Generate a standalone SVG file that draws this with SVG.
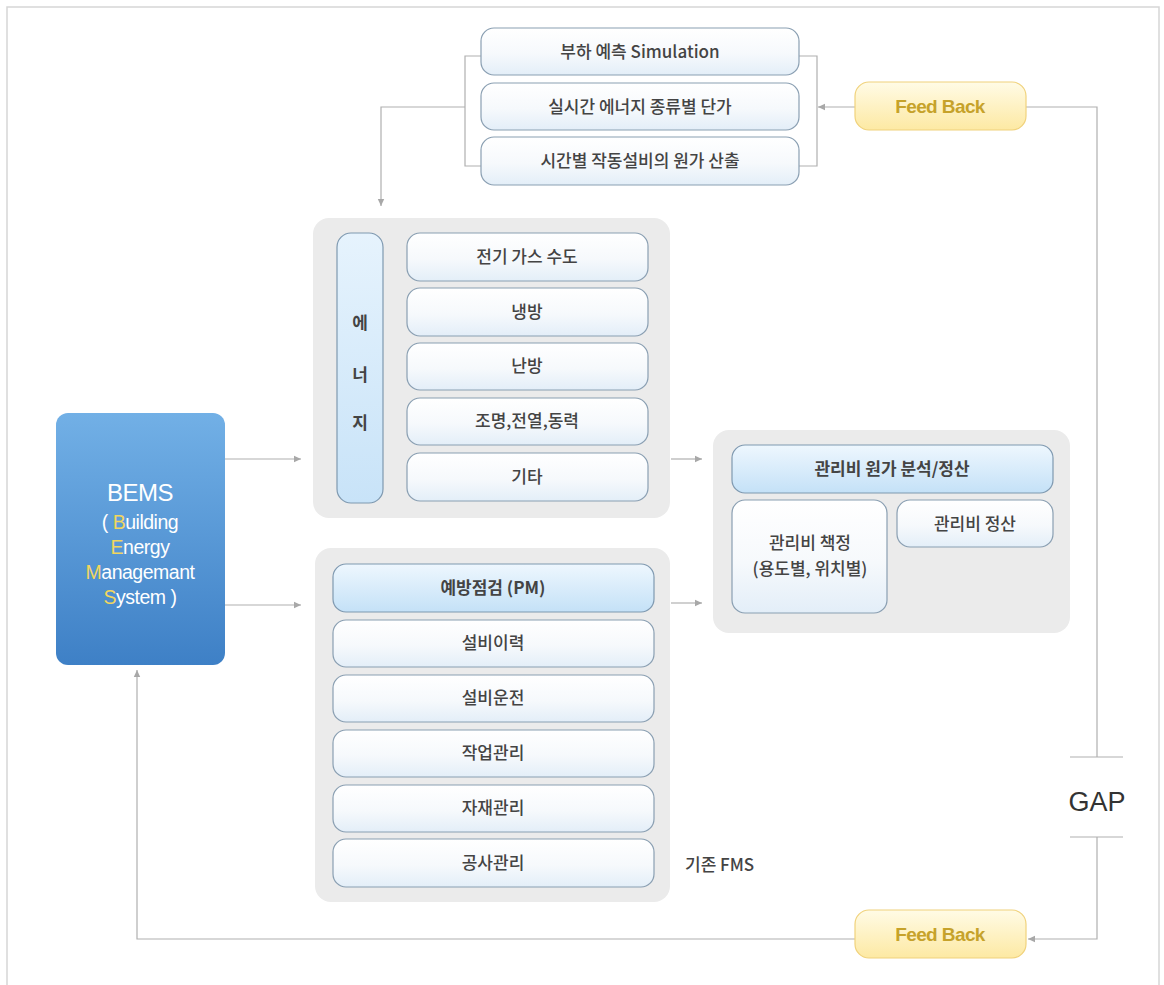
<svg xmlns="http://www.w3.org/2000/svg" width="1164" height="985" viewBox="0 0 1164 985">
  <defs>
    <linearGradient id="boxGrad" x1="0" y1="0" x2="0" y2="1">
      <stop offset="0" stop-color="#ffffff"/>
      <stop offset="0.55" stop-color="#f6f9fc"/>
      <stop offset="1" stop-color="#e3eef8"/>
    </linearGradient>
    <linearGradient id="blueGrad" x1="0" y1="0" x2="0" y2="1">
      <stop offset="0" stop-color="#eef7fe"/>
      <stop offset="1" stop-color="#c4e1f7"/>
    </linearGradient>
    <linearGradient id="pillGrad" x1="0" y1="0" x2="0" y2="1">
      <stop offset="0" stop-color="#e6f3fd"/>
      <stop offset="1" stop-color="#c8e3f8"/>
    </linearGradient>
    <linearGradient id="bemsGrad" x1="0" y1="0" x2="0" y2="1">
      <stop offset="0" stop-color="#72b0e6"/>
      <stop offset="1" stop-color="#3e80c6"/>
    </linearGradient>
    <linearGradient id="fbGrad" x1="0" y1="0" x2="0" y2="1">
      <stop offset="0" stop-color="#fffbe6"/>
      <stop offset="1" stop-color="#fde9a3"/>
    </linearGradient>
    <marker id="arr" markerWidth="8" markerHeight="8" refX="7" refY="4" orient="auto" markerUnits="userSpaceOnUse">
      <path d="M0,0.8 L7,4 L0,7.2 Z" fill="#a8a8a8"/>
    </marker>
    <style>
      .grp { fill: #ebebeb; }
      .box { fill: url(#boxGrad); stroke: #8a9fb2; stroke-width: 1.2; }
      .bbox { fill: url(#blueGrad); stroke: #7f99b0; stroke-width: 1.2; }
      .pill { fill: url(#pillGrad); stroke: #7f99b0; stroke-width: 1.2; }
      .fb { fill: url(#fbGrad); stroke: #f0d27c; stroke-width: 1.2; }
      .t { font-family: "Noto Sans CJK KR", "Noto Sans", "Liberation Sans", sans-serif; font-size: 17px; font-weight: 500; fill: #444444; text-anchor: middle; }
      .tb { font-weight: bold; }
      .fbt { font-family: "Liberation Sans", Arial, sans-serif; font-size: 19px; font-weight: bold; fill: #c6a22a; text-anchor: middle; letter-spacing: -0.6px; }
      .bems { font-family: "Liberation Sans", Arial, sans-serif; fill: #ffffff; text-anchor: middle; }
      .hl { fill: #f2d65e; }
      .ln { fill: none; stroke: #b0b0b0; stroke-width: 1.2; }
    </style>
  </defs>

  <rect x="7" y="7" width="1152" height="990" fill="#ffffff" stroke="#d6d6d6" stroke-width="1.5"/>

  <g id="connectors">
    <path class="ln" d="M481,56 H465 V166 H481"/>
    <path class="ln" d="M465,107 H381 V206" marker-end="url(#arr)"/>
    <path class="ln" d="M799,56 H817 V166 H799"/>
    <path class="ln" d="M855,107 H818" marker-end="url(#arr)"/>
    <path class="ln" d="M1026,107 H1097 V757"/>
    <path class="ln" d="M1070,757 H1123"/>
    <path class="ln" d="M1070,837 H1123"/>
    <path class="ln" d="M1097,837 V939 H1028" marker-end="url(#arr)"/>
    <path class="ln" d="M855,939 H137 V670" marker-end="url(#arr)"/>
    <path class="ln" d="M225,459 H301" marker-end="url(#arr)"/>
    <path class="ln" d="M225,605 H301" marker-end="url(#arr)"/>
    <path class="ln" d="M671,459 H702" marker-end="url(#arr)"/>
    <path class="ln" d="M671,603 H702" marker-end="url(#arr)"/>
  </g>

  <g id="sim1">
    <rect class="box" x="481" y="28" width="318" height="47" rx="13"/>
    <text class="t" x="640" y="58">부하 예측 Simulation</text>
  </g>
  <g id="sim2">
    <rect class="box" x="481" y="83" width="318" height="47" rx="13"/>
    <text class="t" x="640" y="113">실시간 에너지 종류별 단가</text>
  </g>
  <g id="sim3">
    <rect class="box" x="481" y="137" width="318" height="48" rx="13"/>
    <text class="t" x="640" y="167">시간별 작동설비의 원가 산출</text>
  </g>

  <g id="feedback-top">
    <rect class="fb" x="855" y="82" width="171" height="48" rx="14"/>
    <text class="fbt" x="940" y="113">Feed Back</text>
  </g>
  <g id="feedback-bottom">
    <rect class="fb" x="855" y="910" width="171" height="48" rx="14"/>
    <text class="fbt" x="940" y="941">Feed Back</text>
  </g>

  <g id="gap">
    <text x="1097" y="811" font-family="'Liberation Sans', Arial, sans-serif" font-size="27" fill="#333333" text-anchor="middle">GAP</text>
  </g>

  <g id="bems">
    <rect x="56" y="413" width="169" height="252" rx="12" fill="url(#bemsGrad)"/>
    <text class="bems" x="140" y="501" font-size="24" letter-spacing="-0.5">BEMS</text>
    <text class="bems" x="140" y="529" font-size="19.5" letter-spacing="-0.5">( <tspan class="hl">B</tspan>uilding</text>
    <text class="bems" x="140" y="554" font-size="19.5" letter-spacing="-0.5"><tspan class="hl">E</tspan>nergy</text>
    <text class="bems" x="140" y="579" font-size="19.5" letter-spacing="-0.5"><tspan class="hl">M</tspan>anagemant</text>
    <text class="bems" x="140" y="604" font-size="19.5" letter-spacing="-0.5"><tspan class="hl">S</tspan>ystem )</text>
  </g>

  <g id="energy-group">
    <rect class="grp" x="313" y="218" width="357" height="300" rx="16"/>
  </g>
  <g id="energy">
    <rect class="pill" x="337" y="233" width="46" height="270" rx="14"/>
    <text class="t tb" x="360" y="329">에</text>
    <text class="t tb" x="360" y="381">너</text>
    <text class="t tb" x="360" y="429">지</text>
  </g>
  <g id="e1">
    <rect class="box" x="407" y="233" width="241" height="48" rx="13"/>
    <text class="t" x="527" y="263">전기 가스 수도</text>
  </g>
  <g id="e2">
    <rect class="box" x="407" y="288" width="241" height="48" rx="13"/>
    <text class="t" x="527" y="318">냉방</text>
  </g>
  <g id="e3">
    <rect class="box" x="407" y="343" width="241" height="47" rx="13"/>
    <text class="t" x="527" y="372">난방</text>
  </g>
  <g id="e4">
    <rect class="box" x="407" y="398" width="241" height="47" rx="13"/>
    <text class="t" x="527" y="427">조명,전열,동력</text>
  </g>
  <g id="e5">
    <rect class="box" x="407" y="453" width="241" height="48" rx="13"/>
    <text class="t" x="527" y="483">기타</text>
  </g>

  <g id="cost-group">
    <rect class="grp" x="713" y="430" width="357" height="203" rx="16"/>
  </g>
  <g id="cost-head">
    <rect class="bbox" x="732" y="445" width="321" height="48" rx="13"/>
    <text class="t tb" x="892" y="475">관리비 원가 분석/정산</text>
  </g>
  <g id="cost-set">
    <rect class="box" x="732" y="500" width="155" height="113" rx="13"/>
    <text class="t" x="810" y="549">관리비 책정</text>
    <text class="t" x="810" y="575">(용도별, 위치별)</text>
  </g>
  <g id="cost-settle">
    <rect class="box" x="897" y="500" width="156" height="47" rx="13"/>
    <text class="t" x="975" y="530">관리비 정산</text>
  </g>

  <g id="fms-group">
    <rect class="grp" x="315" y="548" width="355" height="354" rx="16"/>
  </g>
  <g id="pm">
    <rect class="bbox" x="333" y="564" width="321" height="48" rx="13"/>
    <text class="t tb" x="493" y="594">예방점검 (PM)</text>
  </g>
  <g id="f1">
    <rect class="box" x="333" y="620" width="321" height="47" rx="13"/>
    <text class="t" x="493" y="649">설비이력</text>
  </g>
  <g id="f2">
    <rect class="box" x="333" y="675" width="321" height="47" rx="13"/>
    <text class="t" x="493" y="704">설비운전</text>
  </g>
  <g id="f3">
    <rect class="box" x="333" y="730" width="321" height="47" rx="13"/>
    <text class="t" x="493" y="759">작업관리</text>
  </g>
  <g id="f4">
    <rect class="box" x="333" y="785" width="321" height="47" rx="13"/>
    <text class="t" x="493" y="814">자재관리</text>
  </g>
  <g id="f5">
    <rect class="box" x="333" y="839" width="321" height="48" rx="13"/>
    <text class="t" x="493" y="869">공사관리</text>
  </g>
  <g id="fms-label">
    <text class="t" x="685" y="871" style="text-anchor:start">기존 FMS</text>
  </g>
</svg>
